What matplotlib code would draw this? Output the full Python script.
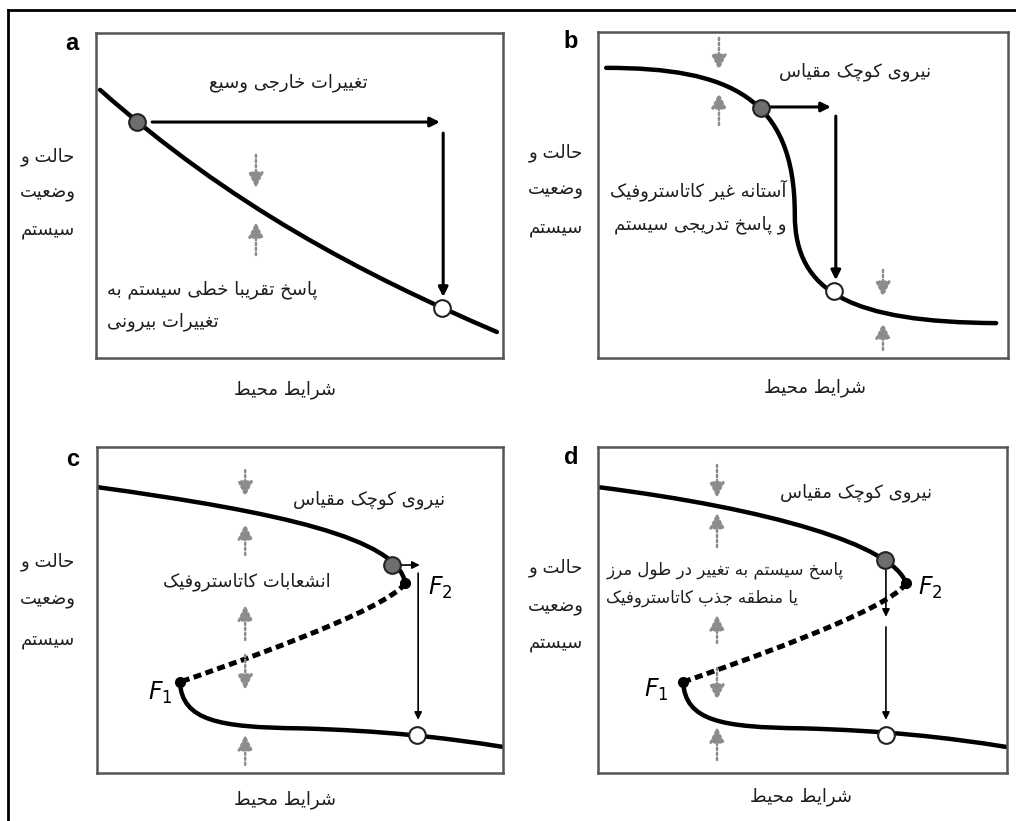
import matplotlib
matplotlib.use("Agg")
import matplotlib.pyplot as plt
from matplotlib.path import Path
from matplotlib.patches import PathPatch
from matplotlib.lines import Line2D

W, H = 1016, 821
plt.rcParams["font.family"] = ["DejaVu Sans"]

# --- minimal Persian shaping (presentation forms) + RTL ordering ---
# (isolated, final, initial, medial); right-joining letters have only two forms
FORMS = {
    "ا": ("\uFE8D", "\uFE8E"), "آ": ("\uFE81", "\uFE82"),
    "د": ("\uFEA9", "\uFEAA"), "ذ": ("\uFEAB", "\uFEAC"),
    "ر": ("\uFEAD", "\uFEAE"), "ز": ("\uFEAF", "\uFEB0"),
    "و": ("\uFEED", "\uFEEE"),
    "ب": ("\uFE8F", "\uFE90", "\uFE91", "\uFE92"),
    "پ": ("\uFB56", "\uFB57", "\uFB58", "\uFB59"),
    "ت": ("\uFE95", "\uFE96", "\uFE97", "\uFE98"),
    "ج": ("\uFE9D", "\uFE9E", "\uFE9F", "\uFEA0"),
    "چ": ("\uFB7A", "\uFB7B", "\uFB7C", "\uFB7D"),
    "ح": ("\uFEA1", "\uFEA2", "\uFEA3", "\uFEA4"),
    "خ": ("\uFEA5", "\uFEA6", "\uFEA7", "\uFEA8"),
    "س": ("\uFEB1", "\uFEB2", "\uFEB3", "\uFEB4"),
    "ش": ("\uFEB5", "\uFEB6", "\uFEB7", "\uFEB8"),
    "ض": ("\uFEBD", "\uFEBE", "\uFEBF", "\uFEC0"),
    "ط": ("\uFEC1", "\uFEC2", "\uFEC3", "\uFEC4"),
    "ع": ("\uFEC9", "\uFECA", "\uFECB", "\uFECC"),
    "غ": ("\uFECD", "\uFECE", "\uFECF", "\uFED0"),
    "ف": ("\uFED1", "\uFED2", "\uFED3", "\uFED4"),
    "ق": ("\uFED5", "\uFED6", "\uFED7", "\uFED8"),
    "ک": ("\uFB8E", "\uFB8F", "\uFB90", "\uFB91"),
    "ل": ("\uFEDD", "\uFEDE", "\uFEDF", "\uFEE0"),
    "م": ("\uFEE1", "\uFEE2", "\uFEE3", "\uFEE4"),
    "ن": ("\uFEE5", "\uFEE6", "\uFEE7", "\uFEE8"),
    "ه": ("\uFEE9", "\uFEEA", "\uFEEB", "\uFEEC"),
    "ی": ("\uFBFC", "\uFBFD", "\uFBFE", "\uFBFF"),
}


def fa(s):
    out = []
    for i, c in enumerate(s):
        f = FORMS.get(c)
        if f is None:
            out.append(c)
            continue
        prev = FORMS.get(s[i - 1]) if i > 0 else None
        nxt = FORMS.get(s[i + 1]) if i + 1 < len(s) else None
        jp = prev is not None and len(prev) == 4
        jn = len(f) == 4 and nxt is not None
        if jp and jn:
            out.append(f[3])
        elif jp:
            out.append(f[1])
        elif jn:
            out.append(f[2])
        else:
            out.append(f[0])
    return "".join(out)[::-1]


# --- texts ---
ylab = ["حالت و", "وضعیت", "سیستم"]
xlab = "شرایط محیط"
small_force = "نیروی کوچک مقیاس"
txt_a1 = "تغییرات خارجی وسیع"
txt_a2 = ["پاسخ تقریبا خطی سیستم به", "تغییرات بیرونی"]
txt_b = ["آستانه غیر کاتاستروفیک", "و پاسخ تدریجی سیستم"]
txt_c = "انشعابات کاتاستروفیک"
txt_d = ["پاسخ سیستم به تغییر در طول مرز", "یا منطقه جذب کاتاستروفیک"]

# --- curve control points (axes data units 0..1), cubic Bezier segments ---
curve_a = [(0.01, 0.825), (0.33, 0.47), (0.65, 0.26), (0.985, 0.08)]
curve_b = [(0.02, 0.89), (0.32, 0.89), (0.48, 0.80), (0.48, 0.44),
           (0.48, 0.20), (0.62, 0.11), (0.971, 0.107)]
upper_c = [(0.0, 0.877), (0.45, 0.80), (0.74, 0.72), (0.759, 0.583)]
middle_c = [(0.759, 0.583), (0.72, 0.50), (0.30, 0.32), (0.204, 0.279)]
lower_c = [(0.204, 0.279), (0.21, 0.16), (0.30, 0.14), (0.50, 0.137),
           (0.70, 0.13), (0.85, 0.11), (1.0, 0.08)]
upper_d = [(0.0, 0.877), (0.42, 0.81), (0.72, 0.70), (0.753, 0.583)]
middle_d = [(0.753, 0.583), (0.72, 0.50), (0.30, 0.32), (0.208, 0.279)]
lower_d = [(0.208, 0.279), (0.214, 0.16), (0.30, 0.14), (0.50, 0.137),
           (0.70, 0.13), (0.85, 0.11), (0.998, 0.08)]

# state markers (x, y)
ball_a, open_a = (0.10, 0.726), (0.85, 0.154)
ball_b, open_b = (0.398, 0.767), (0.575, 0.207)
ball_c, open_c = (0.727, 0.638), (0.788, 0.117)
ball_d, open_d = (0.702, 0.653), (0.704, 0.117)
F_c = [(0.204, 0.279), (0.759, 0.583)]
F_d = [(0.208, 0.279), (0.753, 0.583)]

# black arrows: (x_tail, y_tail, x_head, y_head)
arrows_a = [(0.138, 0.726, 0.845, 0.726), (0.853, 0.692, 0.853, 0.188)]
arrows_b = [(0.407, 0.770, 0.568, 0.770), (0.580, 0.742, 0.580, 0.239)]
arrows_c = [(0.746, 0.638, 0.795, 0.638), (0.791, 0.613, 0.791, 0.163)]
arrows_d = [(0.704, 0.623, 0.704, 0.479), (0.704, 0.448, 0.704, 0.163)]

# gray "small force" arrows: (x, y_tail, y_head)
gray_a = [(0.393, 0.625, 0.523), (0.393, 0.317, 0.418)]
gray_b = [(0.295, 0.982, 0.883), (0.295, 0.715, 0.813),
          (0.695, 0.270, 0.187), (0.695, 0.025, 0.107)]
gray_c = [(0.365, 0.929, 0.847), (0.365, 0.669, 0.764), (0.365, 0.408, 0.515),
          (0.365, 0.362, 0.255), (0.365, 0.025, 0.117)]
gray_d = [(0.291, 0.945, 0.844), (0.291, 0.693, 0.798), (0.291, 0.399, 0.485),
          (0.291, 0.322, 0.224), (0.291, 0.040, 0.141)]

# panel boxes in pixels: left, top, right, bottom
boxes = {"a": (96, 33, 503, 358), "b": (598, 32, 1008, 358),
         "c": (97, 447, 503, 773), "d": (598, 447, 1007, 773)}

fig = plt.figure(figsize=(W / 100, H / 100), dpi=100)
fig.patch.set_facecolor("white")

fig.add_artist(Line2D([8 / W, 1], [1 - 10 / H, 1 - 10 / H], color="black", lw=2))
fig.add_artist(Line2D([8 / W, 8 / W], [0, 1 - 10 / H], color="black", lw=2))

FS = 13
TXT = "#1e1e1e"


def make_ax(key):
    l, t, r, b = boxes[key]
    ax = fig.add_axes([l / W, 1 - b / H, (r - l) / W, (b - t) / H])
    ax.set_xlim(0, 1)
    ax.set_ylim(0, 1)
    ax.set_xticks([])
    ax.set_yticks([])
    for s in ax.spines.values():
        s.set_color("#555555")
        s.set_linewidth(1.8)
    return ax


def bezier(ax, pts, dashed=False):
    codes = [Path.MOVETO] + [Path.CURVE4] * (len(pts) - 1)
    patch = PathPatch(Path(pts, codes), fill=False, ec="black",
                      lw=3.2 if not dashed else 3.6,
                      ls=(0, (1.6, 0.9)) if dashed else "-",
                      capstyle="butt" if dashed else "round")
    ax.add_patch(patch)


def black_arrows(ax, arrs, lw):
    for x0, y0, x1, y1 in arrs:
        ax.annotate("", xy=(x1, y1), xytext=(x0, y0),
                    arrowprops=dict(arrowstyle="-|>", color="black", lw=lw,
                                    mutation_scale=14 if lw > 1.5 else 11,
                                    shrinkA=0, shrinkB=0))


def gray_arrows(ax, arrs):
    for x, y0, y1 in arrs:
        ax.annotate("", xy=(x, y1), xytext=(x, y0),
                    arrowprops=dict(arrowstyle="-|>,head_length=0.6,head_width=0.3",
                                    color="#8c8c8c", lw=1.8, ls=(0, (0.9, 1.1)),
                                    mutation_scale=15, shrinkA=0, shrinkB=0))


def ball(ax, p):
    ax.plot(*p, marker="o", ms=12, mfc="#6e6e6e", mec="#222222", mew=1.5, zorder=5)


def hollow(ax, p):
    ax.plot(*p, marker="o", ms=12, mfc="white", mec="#222222", mew=1.5, zorder=5)


def fold_points(ax, pts):
    for p in pts:
        ax.plot(*p, marker="o", ms=7, mfc="black", mec="black", zorder=6)


def outside_labels(key, letter_xy, ylab_xy, xlab_xy):
    fig.text(letter_xy[0] / W, 1 - letter_xy[1] / H, key, fontsize=17,
             fontweight="bold", family="Liberation Sans", ha="center", va="center")
    x, ys = ylab_xy
    for s, y in zip(ylab, ys):
        fig.text(x / W, 1 - y / H, fa(s), fontsize=FS, color=TXT, ha="center", va="center")
    fig.text(xlab_xy[0] / W, 1 - xlab_xy[1] / H, fa(xlab), fontsize=FS, color=TXT,
             ha="center", va="center")


# ---------------- panel a ----------------
ax = make_ax("a")
bezier(ax, curve_a)
black_arrows(ax, arrows_a, 2.2)
gray_arrows(ax, gray_a)
ball(ax, ball_a)
hollow(ax, open_a)
ax.text(0.472, 0.846, fa(txt_a1), fontsize=FS, color=TXT, ha="center", va="center")
ax.text(0.027, 0.209, fa(txt_a2[0]), fontsize=FS, color=TXT, ha="left", va="center")
ax.text(0.027, 0.111, fa(txt_a2[1]), fontsize=FS, color=TXT, ha="left", va="center")
outside_labels("a", (72, 43), (48, [157, 193, 230]), (285, 390))

# ---------------- panel b ----------------
ax = make_ax("b")
bezier(ax, curve_b)
black_arrows(ax, arrows_b, 2.2)
gray_arrows(ax, gray_b)
ball(ax, ball_b)
hollow(ax, open_b)
ax.text(0.627, 0.877, fa(small_force), fontsize=FS, color=TXT, ha="center", va="center")
ax.text(0.459, 0.515, fa(txt_b[0]), fontsize=FS, color=TXT, ha="right", va="center")
ax.text(0.459, 0.408, fa(txt_b[1]), fontsize=FS, color=TXT, ha="right", va="center")
outside_labels("b", (571, 42), (556, [153, 190, 228]), (815, 388))

# ---------------- panel c ----------------
ax = make_ax("c")
bezier(ax, upper_c)
bezier(ax, middle_c, dashed=True)
bezier(ax, lower_c)
black_arrows(ax, arrows_c, 1.2)
gray_arrows(ax, gray_c)
ball(ax, ball_c)
hollow(ax, open_c)
fold_points(ax, F_c)
ax.text(0.67, 0.837, fa(small_force), fontsize=FS, color=TXT, ha="center", va="center")
ax.text(0.369, 0.586, fa(txt_c), fontsize=FS, color=TXT, ha="center", va="center")
ax.text(0.155, 0.245, r"$F_1$", fontsize=17, ha="center", va="center")
ax.text(0.845, 0.567, r"$F_2$", fontsize=17, ha="center", va="center")
outside_labels("c", (73, 460), (48, [562, 600, 640]), (285, 800))

# ---------------- panel d ----------------
ax = make_ax("d")
bezier(ax, upper_d)
bezier(ax, middle_d, dashed=True)
bezier(ax, lower_d)
black_arrows(ax, arrows_d, 1.2)
gray_arrows(ax, gray_d)
ball(ax, ball_d)
hollow(ax, open_d)
fold_points(ax, F_d)
ax.text(0.631, 0.859, fa(small_force), fontsize=FS, color=TXT, ha="center", va="center")
ax.text(0.02, 0.623, fa(txt_d[0]), fontsize=12, color=TXT, ha="left", va="center")
ax.text(0.02, 0.537, fa(txt_d[1]), fontsize=12, color=TXT, ha="left", va="center")
ax.text(0.142, 0.255, r"$F_1$", fontsize=17, ha="center", va="center")
ax.text(0.812, 0.567, r"$F_2$", fontsize=17, ha="center", va="center")
outside_labels("d", (571, 457), (556, [568, 607, 643]), (801, 797))

fig.savefig("out.png", dpi=100, facecolor="white")
